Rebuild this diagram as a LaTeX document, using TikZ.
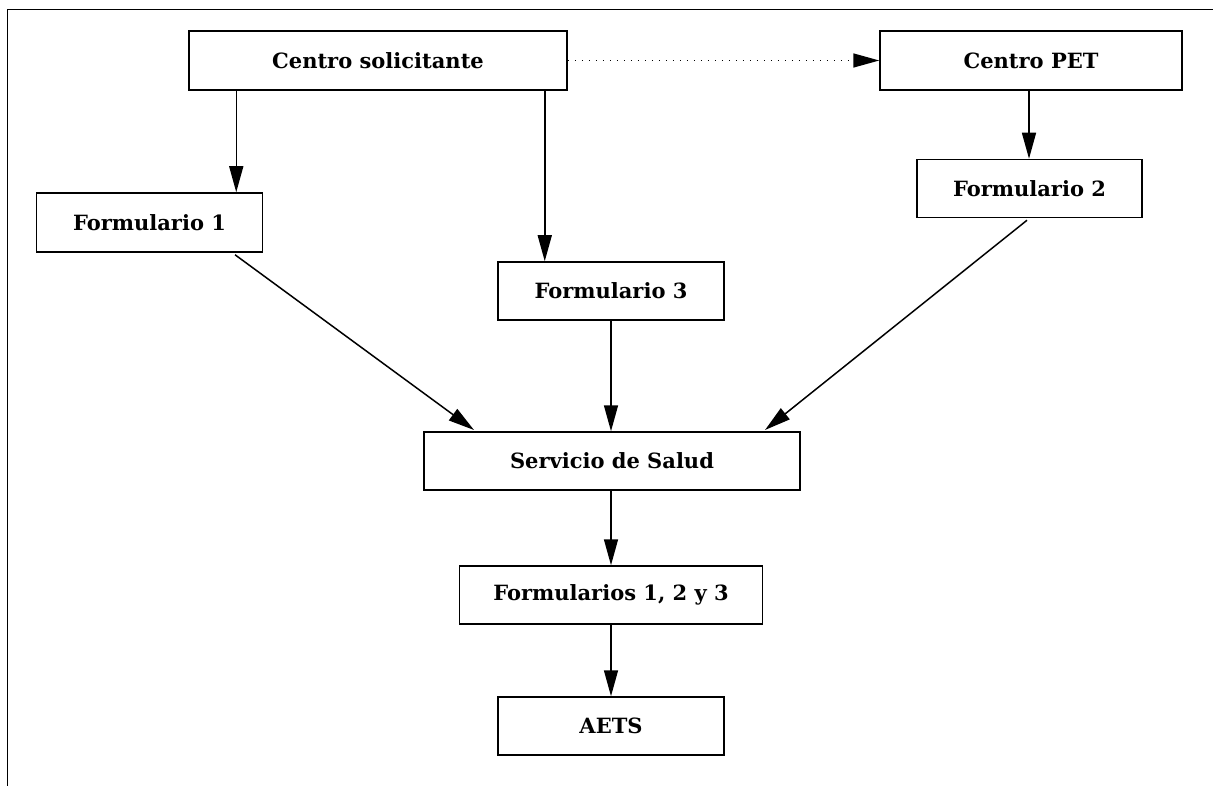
\documentclass[tikz,border=0pt]{standalone}
\usepackage{fontspec}
\setmainfont{DejaVu Serif}
\usetikzlibrary{arrows.meta}
\begin{document}
\begin{tikzpicture}[x=1pt,y=-1pt,
  box/.style={draw, line width=1.5pt, inner sep=0pt, font=\bfseries\fontsize{21}{25}\selectfont},
  arr/.style={line width=1.5pt, -{Triangle[length=26pt,width=14pt]}},
  dotarr/.style={line width=1.5pt, dash pattern=on 1.5pt off 5.5pt, -{Triangle[length=26pt,width=14pt]}}]
\useasboundingbox (0,0) rectangle (1213,786);
\draw[line width=1.6pt] (1213,9.5) -- (7.5,9.5) -- (7.5,786);
\node[box, minimum width=378pt, minimum height=59pt] (cs) at (378,60.5) {Centro solicitante};
\node[box, minimum width=302pt, minimum height=59pt] (cp) at (1031,60.5) {Centro PET};
\node[box, minimum width=226pt, minimum height=59pt] (f1) at (149.5,222.5) {Formulario 1};
\node[box, minimum width=225pt, minimum height=58pt] (f2) at (1029.5,188.5) {Formulario 2};
\node[box, minimum width=226pt, minimum height=58pt] (f3) at (611,291) {Formulario 3};
\node[box, minimum width=376pt, minimum height=58pt] (ss) at (612,461) {Servicio de Salud};
\node[box, minimum width=303pt, minimum height=58pt] (fa) at (611,595) {Formularios 1, 2 y 3};
\node[box, minimum width=226pt, minimum height=58pt] (ae) at (611,726) {AETS};
\draw[arr] (cs.south -| f1.north east) ++(-27,0) coordinate (a1) -- (a1 |- f1.north);
\draw[arr] (cs.south east) ++(-23,0) coordinate (a3) -- (a3 |- f3.north);
\draw[dotarr] (cs.east) -- (cp.west);
\draw[arr] (cp.south) ++(-2,0) coordinate (a2) -- (a2 |- f2.north);
\draw[arr] (f1.south) ++(85.5,2) coordinate (b1) -- (474,430);
\draw[arr] (f2.south) ++(-2.5,2) coordinate (b2) -- (765,430);
\draw[arr] (f3.south) -- (f3.south |- ss.north);
\draw[arr] (fa.north |- ss.south) -- (fa.north);
\draw[arr] (fa.south) -- (ae.north);
\end{tikzpicture}
\end{document}
